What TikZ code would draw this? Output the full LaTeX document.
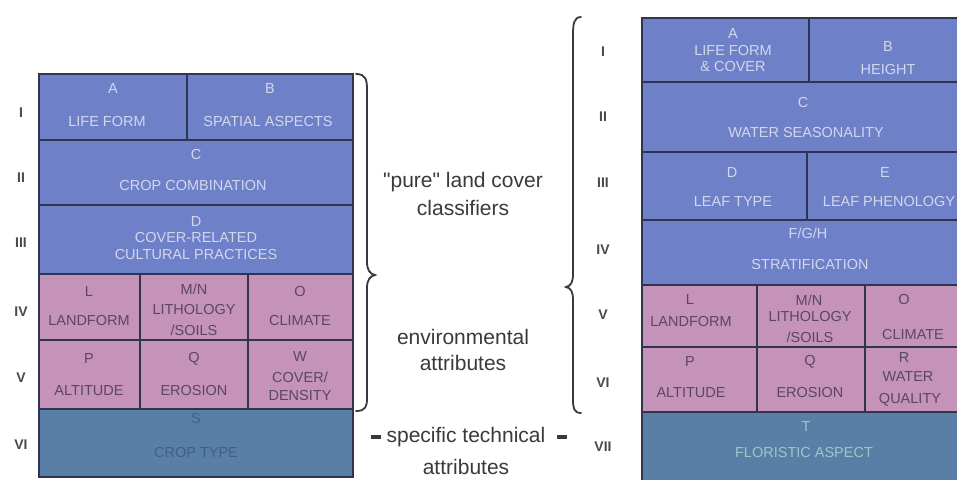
\documentclass[tikz,border=0pt]{standalone}
\usepackage{fontspec}
\setmainfont{Liberation Sans}
\newfontfamily\qfont{Liberation Sans}
\definecolor{cblue}{HTML}{6E80C8}
\definecolor{cpink}{HTML}{C592BA}
\definecolor{cteal}{HTML}{5A7FA6}
\definecolor{tblue}{HTML}{D3D7EC}
\definecolor{tpink}{HTML}{5B4763}
\definecolor{tteal}{HTML}{3F5F88}
\definecolor{tteal2}{HTML}{9CC6CC}
\definecolor{rulec}{HTML}{2F3450}
\definecolor{labc}{HTML}{3A3A3A}
\definecolor{romc}{HTML}{4A4A4A}
\tikzset{
  cellb/.style={fill=cblue, draw=rulec, line width=1.3pt},
  cellp/.style={fill=cpink, draw=rulec, line width=1.3pt},
  cellt/.style={fill=cteal, draw=rulec, line width=1.3pt},
  ct/.style={font=\fontsize{14.5}{15}\selectfont, inner sep=0pt, anchor=center},
  bt/.style={ct, text=tblue},
  pt/.style={ct, text=tpink},
  tt/.style={ct, text=tteal},
  tt2/.style={ct, text=tteal2},
  roman/.style={font=\fontsize{14}{15}\selectfont\bfseries, text=romc, inner sep=0pt},
  side/.style={font=\fontsize{21}{23}\selectfont, text=labc, inner sep=0pt},
  bracec/.style={draw=labc, line width=1.8pt, line cap=round},
  dashmark/.style={draw=labc, line width=3.5pt}
}
\begin{document}
\begin{tikzpicture}[x=1pt, y=-1pt]
\useasboundingbox (0,0) rectangle (957,479);
\fill[white] (0,0) rectangle (957,479);
% ---------------- left panel ----------------
\path[cellb] (39,74) rectangle (187,140);
\path[cellb] (187,74) rectangle (353,140);
\path[cellb] (39,140) rectangle (353,205);
\path[cellb] (39,205) rectangle (353,274);
\path[cellp] (39,274) rectangle (140,340);
\path[cellp] (140,274) rectangle (248,340);
\path[cellp] (248,274) rectangle (353,340);
\path[cellp] (39,340) rectangle (140,409);
\path[cellp] (140,340) rectangle (248,409);
\path[cellp] (248,340) rectangle (353,409);
\path[cellt] (39,409) rectangle (353,477);

\node[bt] (lA) at (113,89) {A};
\node[bt] (lAt) at (107,122) {LIFE FORM};
\node[bt] (lB) at (270,89) {B};
\node[bt] (lBt) at (268,122) {SPATIAL ASPECTS};
\node[bt] (lC) at (196,155) {C};
\node[bt] (lCt) at (193,186) {CROP COMBINATION};
\node[bt] (lD) at (196,222) {D};
\node[bt] (lDt1) at (196,238) {COVER-RELATED};
\node[bt] (lDt2) at (196,255) {CULTURAL PRACTICES};
\node[pt] (lL) at (89,292) {L};
\node[pt] (lLt) at (89,321) {LANDFORM};
\node[pt] (lM) at (194,289) {M/N};
\node[pt] (lMt1) at (194,310) {LITHOLOGY};
\node[pt] (lMt2) at (194,330) {/SOILS};
\node[pt] (lO) at (300,292) {O};
\node[pt] (lOt) at (300,321) {CLIMATE};
\node[pt] (lP) at (89,359) {P};
\node[pt] (lPt) at (89,391) {ALTITUDE};
\node[pt] (lQ) at (194,359) {Q};
\node[pt] (lQt) at (194,391) {EROSION};
\node[pt] (lW) at (300,357) {W};
\node[pt] (lWt1) at (300,377) {COVER/};
\node[pt] (lWt2) at (300,396) {DENSITY};
\node[tt] (lS) at (196,419) {S};
\node[tt] (lSt) at (196,453) {CROP TYPE};

\node[roman] (lr1) at (21,113) {I};
\node[roman] (lr2) at (21,178) {II};
\node[roman] (lr3) at (21,243) {III};
\node[roman] (lr4) at (21,312) {IV};
\node[roman] (lr5) at (21,378) {V};
\node[roman] (lr6) at (21,445) {VI};

% ---------------- braces and middle text ----------------
\draw[bracec] (356,74) .. controls (366,74) and (367,80) .. (367,90) -- (367,262)
  .. controls (367,270) and (370,274) .. (375,275)
  .. controls (370,276) and (367,280) .. (367,288) -- (367,398)
  .. controls (367,406) and (366,411) .. (356,411);
\draw[bracec] (581,17) .. controls (574,17) and (573,24) .. (573,34) -- (573,274)
  .. controls (573,282) and (571,286) .. (566,287)
  .. controls (571,288) and (573,292) .. (573,300) -- (573,400)
  .. controls (573,408) and (574,413) .. (581,413);

\node[side] (s1) at (463,182) {{\qfont "}pure{\qfont "} land cover};
\node[side] (s2) at (463,208) {classifiers};
\node[side] (s3) at (463,337) {environmental};
\node[side] (s4) at (463,363) {attributes};
\node[side] (s5) at (466,437) {specific technical};
\node[side] (s6) at (466,467) {attributes};
\coordinate (d1a) at (371,437);
\coordinate (d1b) at (381,437);
\coordinate (d2a) at (557,437);
\coordinate (d2b) at (567,437);
\draw[dashmark] (d1a) -- (d1b);
\draw[dashmark] (d2a) -- (d2b);

% ---------------- right panel ----------------
\path[cellb] (642,18) rectangle (809,82);
\path[cellb] (809,18) rectangle (963,82);
\path[cellb] (642,82) rectangle (963,152);
\path[cellb] (642,152) rectangle (807,220);
\path[cellb] (807,152) rectangle (963,220);
\path[cellb] (642,220) rectangle (963,285);
\path[cellp] (642,285) rectangle (757,347);
\path[cellp] (757,285) rectangle (865,347);
\path[cellp] (865,285) rectangle (963,347);
\path[cellp] (642,347) rectangle (757,412);
\path[cellp] (757,347) rectangle (865,412);
\path[cellp] (865,347) rectangle (963,412);
\path[cellt] (642,412) rectangle (963,482);

\node[bt] (rA) at (733,34) {A};
\node[bt] (rAt1) at (733,51) {LIFE FORM};
\node[bt] (rAt2) at (733,67) {\& COVER};
\node[bt] (rB) at (888,47) {B};
\node[bt] (rBt) at (888,70) {HEIGHT};
\node[bt] (rC) at (803,103) {C};
\node[bt] (rCt) at (806,133) {WATER SEASONALITY};
\node[bt] (rD) at (732,173) {D};
\node[bt] (rDt) at (733,202) {LEAF TYPE};
\node[bt] (rE) at (885,173) {E};
\node[bt] (rEt) at (889,202) {LEAF PHENOLOGY};
\node[bt] (rF) at (808,233) {F/G/H};
\node[bt] (rFt) at (810,265) {STRATIFICATION};
\node[pt] (rL) at (690,300) {L};
\node[pt] (rLt) at (691,322) {LANDFORM};
\node[pt] (rM) at (809,300) {M/N};
\node[pt] (rMt1) at (810,317) {LITHOLOGY};
\node[pt] (rMt2) at (810,337) {/SOILS};
\node[pt] (rO) at (904,300) {O};
\node[pt] (rOt) at (913,335) {CLIMATE};
\node[pt] (rP) at (690,362) {P};
\node[pt] (rPt) at (691,393) {ALTITUDE};
\node[pt] (rQ) at (810,362) {Q};
\node[pt] (rQt) at (810,393) {EROSION};
\node[pt] (rR) at (904,358) {R};
\node[pt] (rRt1) at (908,377) {WATER};
\node[pt] (rRt2) at (910,400) {QUALITY};
\node[tt2] (rT) at (806,427) {T};
\node[tt2] (rTt) at (804,453) {FLORISTIC ASPECT};

\node[roman] (rr1) at (603,52) {I};
\node[roman] (rr2) at (603,117) {II};
\node[roman] (rr3) at (603,183) {III};
\node[roman] (rr4) at (603,250) {IV};
\node[roman] (rr5) at (603,315) {V};
\node[roman] (rr6) at (603,383) {VI};
\node[roman] (rr7) at (603,447) {VII};
\end{tikzpicture}
\end{document}
